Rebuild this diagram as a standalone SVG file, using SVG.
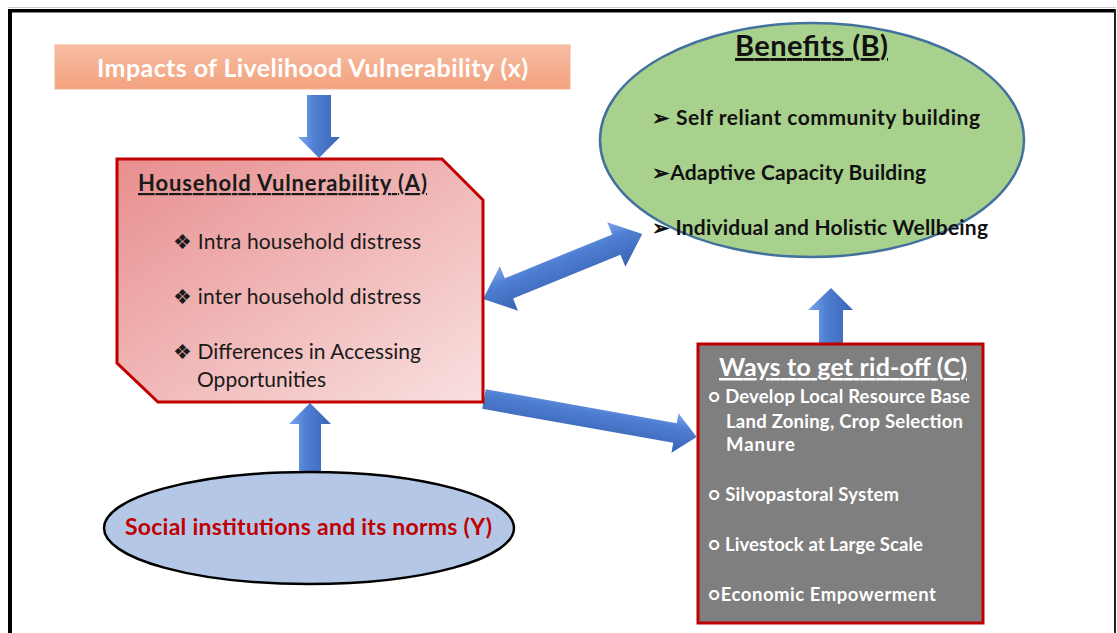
<svg xmlns="http://www.w3.org/2000/svg" width="1117" height="633" viewBox="0 0 1117 633">
<defs>
<linearGradient id="gOrange" x1="0" y1="0" x2="0" y2="1"><stop offset="0" stop-color="#F7BDA3"/><stop offset="1" stop-color="#F3A27E"/></linearGradient>
<linearGradient id="gRed" x1="0" y1="0" x2="1" y2="1"><stop offset="0" stop-color="#E88E8E"/><stop offset="1" stop-color="#F9E0E0"/></linearGradient>
<linearGradient id="gArrH" x1="0" y1="0" x2="0" y2="1"><stop offset="0" stop-color="#7FA6EC"/><stop offset="0.35" stop-color="#4F7FD2"/><stop offset="1" stop-color="#3A64B4"/></linearGradient>
<linearGradient id="gArrV" x1="0" y1="0" x2="1" y2="0"><stop offset="0" stop-color="#7FA6EC"/><stop offset="0.4" stop-color="#4F7FD2"/><stop offset="1" stop-color="#3A64B4"/></linearGradient>
</defs>
<style>
text{font-family:Lato,"Liberation Sans",sans-serif}
.b{font-weight:bold}
.u{text-decoration:underline}
.arrH{fill:url(#gArrH)}
.arrV{fill:url(#gArrV)}
</style>
<rect x="0" y="0" width="1117" height="633" fill="#fff"/>
<g id="frame">
<rect x="8" y="7" width="1108" height="1" fill="#cfcfcf"/>
<rect x="8" y="9" width="1108" height="3.5" fill="#000"/>
<rect x="8" y="9" width="4" height="624" fill="#000"/>
<rect x="1114" y="9" width="2" height="624" fill="#222"/>
</g>
<g id="connectors">
<polygon class="arrV" points="307,95 331,95 331,137 340,137 319,158 298,137 307,137"/>
<polygon class="arrV" points="310,403 331,424 321,424 321,471 299,471 299,424 289,424"/>
<polygon class="arrV" points="831,288 853,310 843,310 843,343 819,343 819,310 808,310"/>
<polygon class="arrH" transform="translate(483,299) rotate(-22.2)" points="0,0 28,-24 28,-11 144,-11 144,-24 172,0 144,24 144,11 28,11 28,24"/>
<polygon class="arrH" transform="translate(484,399) rotate(10.1)" points="0,-10 194,-10 194,-20 216,0 194,20 194,10 0,10"/>
</g>
<g id="impacts">
<rect x="55" y="45" width="515" height="44" fill="url(#gOrange)" stroke="#F4B394" stroke-width="1"/>
<text x="97" y="77" font-size="25" class="b" fill="#fff" textLength="431">Impacts of Livelihood Vulnerability (x)</text>
</g>
<g id="household">
<polygon points="117,159 442,159 483,200 483,402 158,402 117,363" fill="url(#gRed)" stroke="#C00000" stroke-width="3"/>
<text x="138" y="191" font-size="22" class="b u" fill="#1a1a1a" textLength="289">Household Vulnerability  (A)</text>
<text x="173" y="249" font-size="21" fill="#1a1a1a" textLength="248">❖ Intra household distress</text>
<text x="173" y="304" font-size="21" fill="#1a1a1a" textLength="248">❖ inter household distress</text>
<text x="173" y="359" font-size="21" fill="#1a1a1a" textLength="248">❖ Differences in Accessing</text>
<text x="197" y="387" font-size="21" fill="#1a1a1a" textLength="129">Opportunities</text>
</g>
<g id="benefits">
<ellipse cx="812" cy="140" rx="212" ry="117" fill="#A9D18E" stroke="#41719C" stroke-width="2.5"/>
<text x="735" y="56" font-size="29" class="b u" fill="#111" textLength="153">Benefits (B)</text>
<text x="652" y="125" font-size="21" class="b" fill="#111" textLength="328">➢  Self reliant community building</text>
<text x="652" y="180" font-size="21" class="b" fill="#111" textLength="274">➢Adaptive Capacity Building</text>
<text x="652" y="235" font-size="21" class="b" fill="#111" textLength="336">➢ Individual and Holistic Wellbeing</text>
</g>
<g id="ways">
<rect x="698" y="344" width="285" height="279" fill="#7F7F7F" stroke="#C00000" stroke-width="3"/>
<text x="719" y="376" font-size="25" class="b u" fill="#fff" textLength="248">Ways to get rid-off (C)</text>
<text x="708" y="403" font-size="18.5" class="b" fill="#fff" textLength="262">○ Develop Local Resource Base</text>
<text x="726" y="428" font-size="18.5" class="b" fill="#fff" textLength="237">Land Zoning, Crop Selection</text>
<text x="726" y="451" font-size="18.5" class="b" fill="#fff" textLength="69">Manure</text>
<text x="708" y="501" font-size="18.5" class="b" fill="#fff" textLength="191">○ Silvopastoral System</text>
<text x="708" y="551" font-size="18.5" class="b" fill="#fff" textLength="215">○ Livestock at Large Scale</text>
<text x="708" y="601" font-size="18.5" class="b" fill="#fff" textLength="228">○Economic Empowerment</text>
</g>
<g id="social">
<ellipse cx="309" cy="528" rx="205" ry="56" fill="#B4C7E7" stroke="#000" stroke-width="2.5"/>
<text x="125" y="535" font-size="23" class="b" fill="#C00000" textLength="367">Social institutions and its norms (Y)</text>
</g>
</svg>
